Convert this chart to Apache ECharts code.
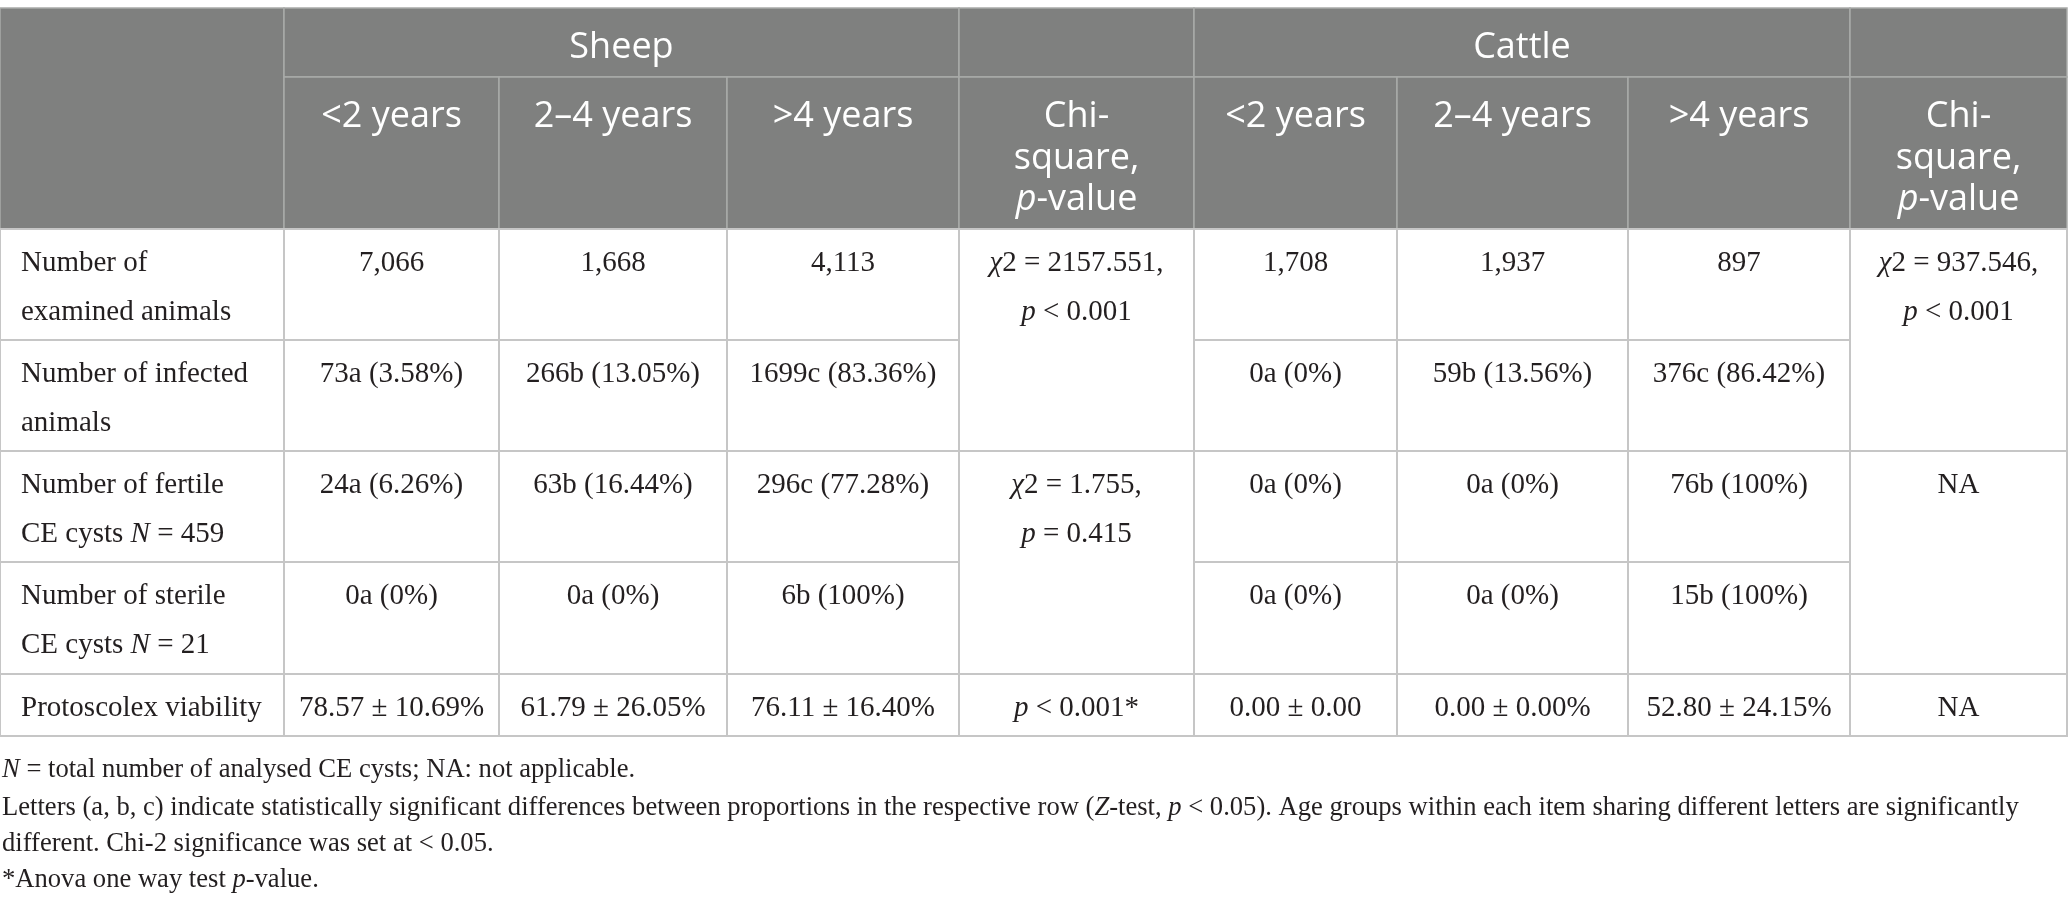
<!DOCTYPE html>
<html>
<head>
<meta charset="utf-8">
<script src="https://cdn.jsdelivr.net/npm/echarts@6/dist/echarts.min.js"></script>
<style>
  html, body { margin: 0; padding: 0; background: #fff; }
  #main { width: 2068px; height: 907px; }
</style>
</head>
<body>
<div id="main"></div>
<script>
// 表格内容
var species = ['Sheep', 'Cattle'];
var ageGroups = ['<2 years', '2–4 years', '>4 years'];
var testHeader = 'Chi-\nsquare,\n{i|p}-value';
var rowLabels = [
  'Number of\nexamined animals',
  'Number of infected\nanimals',
  'Number of fertile\nCE cysts {i|N} = 459',
  'Number of sterile\nCE cysts {i|N} = 21',
  'Protoscolex viability'
];
var sheepValues = [
  ['7,066', '1,668', '4,113'],
  ['73a (3.58%)', '266b (13.05%)', '1699c (83.36%)'],
  ['24a (6.26%)', '63b (16.44%)', '296c (77.28%)'],
  ['0a (0%)', '0a (0%)', '6b (100%)'],
  ['78.57 ± 10.69%', '61.79 ± 26.05%', '76.11 ± 16.40%']
];
var cattleValues = [
  ['1,708', '1,937', '897'],
  ['0a (0%)', '59b (13.56%)', '376c (86.42%)'],
  ['0a (0%)', '0a (0%)', '76b (100%)'],
  ['0a (0%)', '0a (0%)', '15b (100%)'],
  ['0.00 ± 0.00', '0.00 ± 0.00%', '52.80 ± 24.15%']
];
var sheepTests = ['{i|χ}2 = 2157.551,\n{i|p} < 0.001', '{i|χ}2 = 1.755,\n{i|p} = 0.415', '{i|p} < 0.001*'];
var cattleTests = ['{i|χ}2 = 937.546,\n{i|p} < 0.001', 'NA', 'NA'];
var testRows = [[0, 2], [2, 4], [4, 5]];
var footnotes = [
  '{i|N} = total number of analysed CE cysts; NA: not applicable.',
  'Letters (a, b, c) indicate statistically significant differences between proportions in the respective row ({i|Z}-test, {i|p} < 0.05). Age groups within each item sharing different letters are significantly',
  'different. Chi-2 significance was set at < 0.05.',
  '*Anova one way test {i|p}-value.'
];

// 布局
var colEdges = [0, 284, 499, 727, 959, 1194, 1397, 1628, 1850, 2067];
var headEdges = [8, 77, 229];
var rowEdges = [229, 340, 451, 562, 674, 736];
var footY = [752, 790, 826, 862];

var cells = [];
function addCell(c0, c1, y0, y1, text, kind) {
  cells.push({ x0: colEdges[c0], x1: colEdges[c1], y0: y0, y1: y1, text: text, kind: kind });
}
addCell(0, 1, headEdges[0], headEdges[2], '', 'head');
species.forEach(function (s, i) {
  var c = 1 + i * 4;
  addCell(c, c + 3, headEdges[0], headEdges[1], s, 'head');
  addCell(c + 3, c + 4, headEdges[0], headEdges[1], '', 'head');
  ageGroups.forEach(function (a, k) {
    addCell(c + k, c + k + 1, headEdges[1], headEdges[2], a, 'head');
  });
  addCell(c + 3, c + 4, headEdges[1], headEdges[2], testHeader, 'head');
});
rowLabels.forEach(function (lab, r) {
  addCell(0, 1, rowEdges[r], rowEdges[r + 1], lab, 'label');
  [sheepValues, cattleValues].forEach(function (vals, i) {
    vals[r].forEach(function (v, k) {
      var c = 1 + i * 4 + k;
      addCell(c, c + 1, rowEdges[r], rowEdges[r + 1], v, 'body');
    });
  });
});
testRows.forEach(function (tr, j) {
  addCell(4, 5, rowEdges[tr[0]], rowEdges[tr[1]], sheepTests[j], 'body');
  addCell(8, 9, rowEdges[tr[0]], rowEdges[tr[1]], cattleTests[j], 'body');
});

var serif = '"Liberation Serif", "Times New Roman", serif';
var sans = '"Open Sans", "Noto Sans", sans-serif';

var myChart = echarts.init(document.getElementById('main'), null, { renderer: 'canvas' });

var option = {
  animation: false,
  grid: { left: 0, right: 0, top: 0, bottom: 0 },
  xAxis: { type: 'value', min: 0, max: 2068, show: false },
  yAxis: { type: 'value', min: 0, max: 907, inverse: true, show: false },
  series: [{
    type: 'custom',
    silent: true,
    encode: { x: [0, 2], y: [1, 3] },
    data: cells.map(function (c) { return [c.x0, c.y0, c.x1, c.y1]; }),
    renderItem: function (params, api) {
      var cell = cells[params.dataIndex];
      var p0 = api.coord([api.value(0), api.value(1)]);
      var p1 = api.coord([api.value(2), api.value(3)]);
      var head = cell.kind === 'head';
      var fs = head ? 36 : 29;
      var lh = head ? 41.5 : 49;
      var fam = head ? sans : serif;
      var tx = cell.kind === 'label' ? p0[0] + 21 : (p0[0] + p1[0]) / 2;
      return {
        type: 'group',
        children: [{
          type: 'rect',
          shape: { x: p0[0], y: p0[1], width: p1[0] - p0[0], height: p1[1] - p0[1] },
          style: { fill: head ? '#7f807f' : '#fff', stroke: head ? '#a9aaa9' : '#c6c6c6', lineWidth: head ? 1.5 : 2 }
        }, {
          type: 'text',
          z2: 10,
          style: {
            x: tx,
            y: p0[1] + (head ? 19 : 10),
            text: cell.text,
            fill: head ? '#ffffff' : '#231f20',
            fontSize: fs,
            fontFamily: fam,
            lineHeight: lh,
            align: cell.kind === 'label' ? 'left' : 'center',
            verticalAlign: 'top',
            rich: {
              i: { fontStyle: 'italic', fontSize: fs, fontFamily: fam, lineHeight: lh, fill: head ? '#ffffff' : '#231f20' }
            }
          }
        }]
      };
    }
  }],
  graphic: footnotes.map(function (t, i) {
    return {
      type: 'text',
      left: 2,
      top: footY[i],
      style: {
        text: t,
        fill: '#231f20',
        fontSize: 26.6,
        fontFamily: serif,
        lineHeight: 36,
        rich: { i: { fontStyle: 'italic', fontSize: 26.6, fontFamily: serif, lineHeight: 36, fill: '#231f20' } }
      }
    };
  })
};

myChart.setOption(option);

window.onresize = () => {
  myChart.resize()
}
</script>
</body>
</html>
